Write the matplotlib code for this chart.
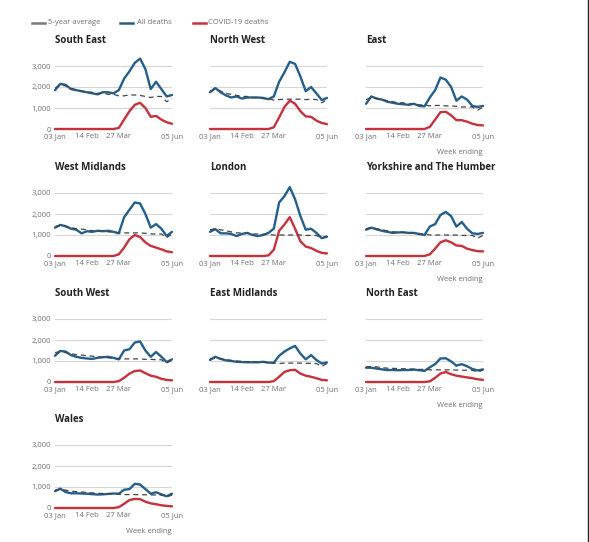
import matplotlib.pyplot as plt
from matplotlib.lines import Line2D

plt.rcParams['font.family'] = ['Open Sans', 'DejaVu Sans']

weeks = ['03 Jan', '10 Jan', '17 Jan', '24 Jan', '31 Jan', '07 Feb', '14 Feb',
         '21 Feb', '28 Feb', '06 Mar', '13 Mar', '20 Mar', '27 Mar', '03 Apr',
         '10 Apr', '17 Apr', '24 Apr', '01 May', '08 May', '15 May', '22 May',
         '29 May', '05 Jun']
tick_weeks = ['03 Jan', '14 Feb', '27 Mar', '05 Jun']

regions = ['South East', 'North West', 'East', 'West Midlands', 'London',
           'Yorkshire and The Humber', 'South West', 'East Midlands',
           'North East', 'Wales']

se_all = [1850, 2150, 2100, 1900, 1850, 1800, 1750, 1700, 1650, 1750, 1750, 1700,
          1850, 2400, 2750, 3150, 3350, 2850, 1900, 2250, 1900, 1550, 1620]
se_avg = [1950, 2100, 2050, 1950, 1850, 1800, 1750, 1750, 1700, 1700, 1650, 1650,
          1580, 1580, 1620, 1620, 1600, 1550, 1500, 1550, 1550, 1300, 1450]
se_cov = [0, 0, 0, 0, 0, 0, 0, 0, 0, 0, 0, 0,
          50, 450, 850, 1150, 1250, 1000, 580, 620, 450, 320, 250]

nw_all = [1750, 1950, 1750, 1600, 1500, 1550, 1450, 1500, 1500, 1500, 1480, 1420,
          1550, 2250, 2700, 3200, 3100, 2500, 1800, 2000, 1700, 1380, 1480]
nw_avg = [1800, 1900, 1800, 1700, 1650, 1600, 1550, 1550, 1500, 1500, 1450, 1450,
          1380, 1400, 1420, 1420, 1420, 1420, 1400, 1420, 1400, 1250, 1400]
nw_cov = [0, 0, 0, 0, 0, 0, 0, 0, 0, 0, 0, 0,
          80, 550, 1050, 1350, 1200, 850, 600, 580, 400, 290, 230]

ea_all = [1200, 1550, 1450, 1400, 1300, 1250, 1200, 1180, 1150, 1200, 1100, 1080,
          1500, 1850, 2450, 2350, 2000, 1350, 1550, 1400, 1100, 1050, 1100]
ea_avg = [1400, 1500, 1450, 1400, 1350, 1300, 1250, 1250, 1200, 1200, 1150, 1150,
          1100, 1120, 1120, 1100, 1100, 1080, 1050, 1050, 1050, 900, 1050]
ea_cov = [0, 0, 0, 0, 0, 0, 0, 0, 0, 0, 0, 0,
          100, 450, 800, 820, 650, 420, 420, 350, 250, 190, 170]

wm_all = [1350, 1480, 1420, 1300, 1250, 1080, 1180, 1150, 1200, 1180, 1200, 1150,
          1080, 1850, 2200, 2550, 2500, 2000, 1350, 1520, 1300, 950, 1150]
wm_avg = [1400, 1450, 1400, 1350, 1300, 1280, 1250, 1200, 1200, 1200, 1150, 1150,
          1100, 1100, 1100, 1100, 1100, 1080, 1050, 1050, 1050, 880, 1050]
wm_cov = [0, 0, 0, 0, 0, 0, 0, 0, 0, 0, 0, 0,
          80, 400, 800, 1000, 900, 650, 480, 400, 320, 220, 180]

lo_all = [1150, 1280, 1080, 1080, 1050, 950, 1050, 1100, 1000, 950, 1000, 1100,
          1300, 2550, 2850, 3280, 2700, 1900, 1250, 1300, 1100, 850, 920]
lo_avg = [1250, 1300, 1250, 1200, 1150, 1100, 1100, 1080, 1050, 1050, 1030, 1020,
          1000, 1000, 1000, 1000, 1000, 1000, 980, 980, 980, 850, 950]
lo_cov = [0, 0, 0, 0, 0, 0, 0, 0, 0, 0, 0, 30,
          300, 1200, 1500, 1850, 1300, 700, 450, 380, 250, 150, 120]

yh_all = [1250, 1350, 1270, 1200, 1150, 1100, 1120, 1130, 1100, 1100, 1050, 1000,
          1400, 1520, 1950, 2100, 1900, 1400, 1620, 1300, 1080, 1050, 1100]
yh_avg = [1300, 1350, 1300, 1250, 1200, 1150, 1150, 1120, 1100, 1080, 1050, 1050,
          1000, 1000, 1000, 1000, 1000, 1000, 980, 980, 980, 850, 980]
yh_cov = [0, 0, 0, 0, 0, 0, 0, 0, 0, 0, 0, 0,
          80, 350, 650, 750, 650, 500, 480, 350, 280, 230, 220]

sw_all = [1250, 1480, 1450, 1280, 1200, 1150, 1120, 1100, 1150, 1180, 1200, 1150,
          1080, 1500, 1560, 1880, 1930, 1500, 1200, 1430, 1200, 950, 1080]
sw_avg = [1400, 1450, 1400, 1350, 1300, 1280, 1250, 1230, 1200, 1180, 1150, 1130,
          1100, 1100, 1100, 1100, 1100, 1080, 1080, 1060, 1060, 900, 1050]
sw_cov = [0, 0, 0, 0, 0, 0, 0, 0, 0, 0, 0, 0,
          40, 200, 400, 520, 550, 420, 300, 250, 150, 100, 80]

em_all = [1050, 1200, 1100, 1030, 1000, 960, 950, 940, 940, 940, 960, 920,
          920, 1250, 1450, 1600, 1720, 1350, 1080, 1280, 1050, 880, 930]
em_avg = [1100, 1150, 1100, 1060, 1030, 1000, 980, 970, 960, 950, 940, 930,
          900, 880, 900, 900, 900, 900, 890, 890, 880, 740, 880]
em_cov = [0, 0, 0, 0, 0, 0, 0, 0, 0, 0, 0, 0,
          40, 250, 480, 560, 580, 400, 300, 250, 180, 100, 80]

ne_all = [680, 680, 640, 600, 570, 570, 560, 570, 570, 590, 560, 530,
          700, 850, 1120, 1130, 980, 780, 850, 750, 620, 550, 600]
ne_avg = [720, 740, 720, 680, 660, 650, 640, 630, 620, 610, 600, 600,
          580, 580, 580, 580, 580, 570, 560, 560, 560, 480, 560]
ne_cov = [0, 0, 0, 0, 0, 0, 0, 0, 0, 0, 0, 0,
          30, 200, 400, 480, 370, 300, 260, 220, 180, 130, 100]

wa_all = [800, 920, 760, 700, 700, 690, 680, 660, 640, 650, 670, 690,
          680, 870, 900, 1150, 1120, 900, 680, 750, 650, 560, 680]
wa_avg = [850, 900, 850, 800, 780, 760, 740, 720, 700, 690, 680, 670,
          650, 640, 640, 640, 630, 630, 620, 620, 620, 540, 610]
wa_cov = [0, 0, 0, 0, 0, 0, 0, 0, 0, 0, 0, 0,
          40, 200, 380, 430, 420, 300, 220, 180, 130, 100, 80]

all_series = [se_all, nw_all, ea_all, wm_all, lo_all, yh_all, sw_all, em_all, ne_all, wa_all]
avg_series = [se_avg, nw_avg, ea_avg, wm_avg, lo_avg, yh_avg, sw_avg, em_avg, ne_avg, wa_avg]
cov_series = [se_cov, nw_cov, ea_cov, wm_cov, lo_cov, yh_cov, sw_cov, em_cov, ne_cov, wa_cov]

blue = '#245f8c'
red = '#c6323b'
avg_col = '#444444'
grey_txt = '#707070'

W, H = 589, 542
fig = plt.figure(figsize=(W / 100, H / 100), dpi=100)

# pixel layout of the small multiples
col_x = [55, 210, 366]
zero_y = [129, 256, 382, 508]
ymax = 3500
ax_w = 117
ax_h = ymax * 63 / 3000

x = list(range(len(weeks)))
for i, name in enumerate(regions):
    r, c = divmod(i, 3)
    ax = fig.add_axes([col_x[c] / W, 1 - zero_y[r] / H, ax_w / W, ax_h / H])
    ax.set_xlim(0, len(weeks) - 1)
    ax.set_ylim(0, ymax)
    ax.set_yticks([0, 1000, 2000, 3000])
    ax.grid(axis='y', color='#d6d6d6', lw=0.8)
    ax.set_axisbelow(True)
    for s in ax.spines.values():
        s.set_visible(False)

    ax.plot(x, cov_series[i], color=red, lw=1.7, clip_on=False, solid_capstyle='round')
    ax.plot(x, all_series[i], color=blue, lw=1.7, clip_on=False, solid_capstyle='round')
    ax.plot(x, avg_series[i], color=avg_col, lw=0.9, dashes=(4, 3), clip_on=False)

    ax.set_xticks([weeks.index(w) for w in tick_weeks])
    ax.set_xticklabels(tick_weeks)
    ax.tick_params(length=0, labelsize=5.5, labelcolor=grey_txt, pad=3)
    if c == 0:
        ax.set_yticklabels(['0', '1,000', '2,000', '3,000'])
    else:
        ax.set_yticklabels([])

    ax.annotate(name, xy=(0, 1), xycoords='axes fraction', xytext=(0, 11),
                textcoords='offset points', ha='left', va='center',
                fontsize=7, fontweight='bold', color='#222222')

    if c == 2 or name == 'Wales':
        ax.annotate('Week ending', xy=(1, 0), xycoords='axes fraction',
                    xytext=(0, -17), textcoords='offset points', ha='right',
                    va='center', fontsize=5.5, color=grey_txt)

# legend across the top
leg = [('5-year average', '#7a7a7a', 32, 45, 48),
       ('All deaths', blue, 120, 133, 137),
       ('COVID-19 deaths', red, 193, 206, 208)]
for label, col, x0, x1, tx in leg:
    fig.add_artist(Line2D([x0 / W, x1 / W], [1 - 23 / H, 1 - 23 / H],
                          color=col, lw=1.8, transform=fig.transFigure))
    fig.text(tx / W, 1 - 23 / H, label, ha='left', va='center',
             fontsize=5.5, color=grey_txt)

# screenshot border on the right
fig.add_artist(Line2D([588 / W, 588 / W], [0, 1], color='#222222', lw=1,
                      transform=fig.transFigure))

fig.savefig('out.png', dpi=100, facecolor='white')
